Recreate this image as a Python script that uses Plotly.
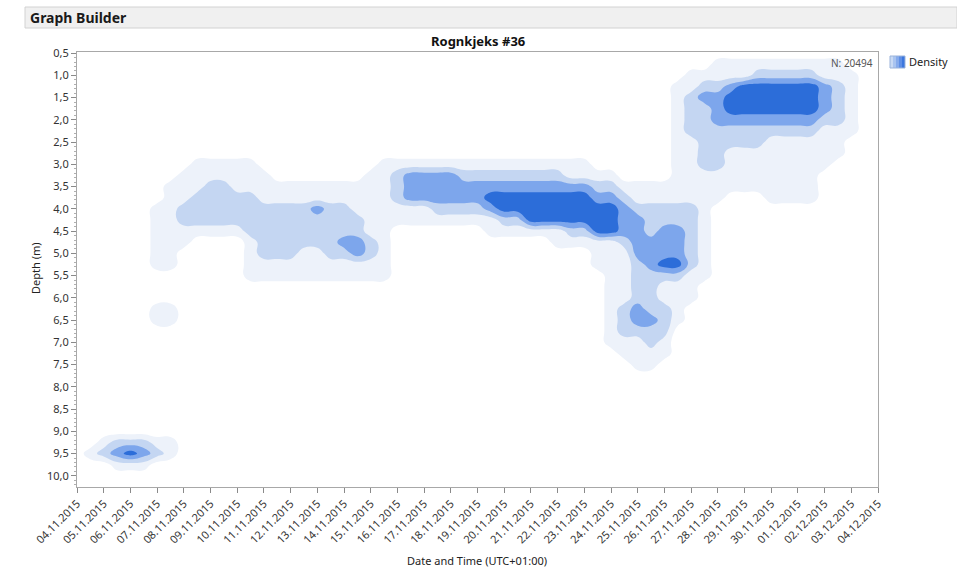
import numpy as np
import pandas as pd
import plotly.graph_objects as go

# ---------------------------------------------------------------------------
# Data
# Density band level on a grid: rows = depth 0.50 .. 10.25 m (step 0.25 m),
# columns = 04.11.2015 00:00 .. 04.12.2015 00:00 (step 12 h).
# 0 = no density, 1 = lowest band ... 4 = highest band.
# ---------------------------------------------------------------------------
depth_start = 0.5
depth_step = 0.25
time_start = "2015-11-04"
time_step = "12h"

density_rows = [
    "0000000000 0000000000 0000000000 0000000000 0000000000 0000000000 0",  # 0.50
    "0000000000 0000000000 0000000000 0000000000 0000000011 1111111100 0",  # 0.75
    "0000000000 0000000000 0000000000 0000000000 0000001111 1222221110 0",  # 1.00
    "0000000000 0000000000 0000000000 0000000000 0000011223 4444443210 0",  # 1.25
    "0000000000 0000000000 0000000000 0000000000 0000012334 4444443210 0",  # 1.50
    "0000000000 0000000000 0000000000 0000000000 0000012234 4444443210 0",  # 1.75
    "0000000000 0000000000 0000000000 0000000000 0000012233 3333332210 0",  # 2.00
    "0000000000 0000000000 0000000000 0000000000 0000012222 2222221110 0",  # 2.25
    "0000000000 0000000000 0000000000 0000000000 0000011222 2211111100 0",  # 2.50
    "0000000000 0000000000 0000000000 0000000000 0000011221 1111111100 0",  # 2.75
    "0000000001 1111000000 0001111111 1111111110 0000011221 1111111000 0",  # 3.00
    "0000000011 1111100000 0011233332 2222222111 1000011111 1111110000 0",  # 3.25
    "0000000111 2211111111 1111233333 3333333332 2111111111 1111110000 0",  # 3.50
    "0000000112 2222111111 1111233333 3444444443 3211111110 0011110000 0",  # 3.75
    "0000001122 2222222232 2111111222 2344444444 4322222100 0000000000 0",  # 4.00
    "0000001122 2222222222 2211111111 1122444444 4332222100 0000000000 0",  # 4.25
    "0000001111 1112222222 2211000000 0111111224 4332332100 0000000000 0",  # 4.50
    "0000001110 0001222222 3321000000 0000001111 1233332100 0000000000 0",  # 4.75
    "0000001100 0001222112 2321000000 0000000001 1133332100 0000000000 0",  # 5.00
    "0000001100 0001111111 1111000000 0000000001 1123442100 0000000000 0",  # 5.25
    "0000000000 0001111111 1111000000 0000000000 1122221100 0000000000 0",  # 5.50
    "0000000000 0000000000 0000000000 0000000000 1122111000 0000000000 0",  # 5.75
    "0000000000 0000000000 0000000000 0000000000 1122111000 0000000000 0",  # 6.00
    "0000001100 0000000000 0000000000 0000000000 1232210000 0000000000 0",  # 6.25
    "0000001100 0000000000 0000000000 0000000000 1233210000 0000000000 0",  # 6.50
    "0000000000 0000000000 0000000000 0000000000 1222200000 0000000000 0",  # 6.75
    "0000000000 0000000000 0000000000 0000000000 1112100000 0000000000 0",  # 7.00
    "0000000000 0000000000 0000000000 0000000000 0111100000 0000000000 0",  # 7.25
    "0000000000 0000000000 0000000000 0000000000 0011000000 0000000000 0",  # 7.50
    "0000000000 0000000000 0000000000 0000000000 0000000000 0000000000 0",  # 7.75
    "0000000000 0000000000 0000000000 0000000000 0000000000 0000000000 0",  # 8.00
    "0000000000 0000000000 0000000000 0000000000 0000000000 0000000000 0",  # 8.25
    "0000000000 0000000000 0000000000 0000000000 0000000000 0000000000 0",  # 8.50
    "0000000000 0000000000 0000000000 0000000000 0000000000 0000000000 0",  # 8.75
    "0000000000 0000000000 0000000000 0000000000 0000000000 0000000000 0",  # 9.00
    "0012221100 0000000000 0000000000 0000000000 0000000000 0000000000 0",  # 9.25
    "0123432100 0000000000 0000000000 0000000000 0000000000 0000000000 0",  # 9.50
    "0001110000 0000000000 0000000000 0000000000 0000000000 0000000000 0",  # 9.75
    "0000000000 0000000000 0000000000 0000000000 0000000000 0000000000 0",  # 10.00
    "0000000000 0000000000 0000000000 0000000000 0000000000 0000000000 0",  # 10.25
]

band_colors = ["#FFFFFF", "#EDF2FA", "#C4D6F2", "#7DA6EC", "#2C6DD9"]

n_count_label = "N: 20494"
chart_title = "Rognkjeks #36"
x_title = "Date and Time (UTC+01:00)"
y_title = "Depth (m)"
legend_label = "Density"
header_label = "Graph Builder"
x_range = ["2015-11-04", "2015-12-04"]
y_range = [10.25, 0.475]

# ---------------------------------------------------------------------------
z = [[int(c) for c in row.replace(" ", "")] for row in density_rows]
n_cols = len(z[0])
x_grid = pd.date_range(time_start, periods=n_cols, freq=time_step)
y_grid = depth_start + depth_step * np.arange(len(z))

n_bands = len(band_colors)
colorscale = [[i / (n_bands - 1), c] for i, c in enumerate(band_colors)]

FONT = "Segoe UI, Noto Sans, Open Sans, sans-serif"

fig = go.Figure()
fig.add_trace(go.Contour(
    x=x_grid, y=y_grid, z=z,
    zmin=0, zmax=n_bands - 1,
    autocontour=False,
    contours=dict(start=0.5, end=n_bands - 1.5, size=1, coloring="fill", showlines=False),
    line=dict(width=0, smoothing=1.3),
    colorscale=colorscale,
    showscale=False,
    hoverinfo="skip",
))

W, H = 957, 568
L, R, T, B = 77, 79, 52, 81
pw, ph = W - L - R, H - T - B


def px(xp):
    return (xp - L) / pw


def py(yp):
    return (H - B - yp) / ph


shapes = [
    # header bar
    dict(type="rect", xref="paper", yref="paper", x0=px(25), x1=px(957), y0=py(28), y1=py(7),
         fillcolor="#F0F0F0", line=dict(color="#D2D2D2", width=1), layer="below"),
]
# legend swatch (gradient approximated by strips)
strip_cols = ["#C9DAF4", "#A9C4F0", "#86ABEC", "#5F8FE5", "#3C77DE"]
sx0, sx1 = 890, 905
for k, c in enumerate(strip_cols):
    a = sx0 + (sx1 - sx0) * k / len(strip_cols)
    b = sx0 + (sx1 - sx0) * (k + 1) / len(strip_cols)
    shapes.append(dict(type="rect", xref="paper", yref="paper", x0=px(a), x1=px(b),
                       y0=py(68), y1=py(56), fillcolor=c, line=dict(width=0)))
shapes.append(dict(type="rect", xref="paper", yref="paper", x0=px(sx0), x1=px(sx1),
                   y0=py(68), y1=py(56), line=dict(color="#9AB3DA", width=1)))

annotations = [
    dict(text=f"<b>{header_label}</b>", x=px(28), y=py(17.5), xref="paper", yref="paper",
         xanchor="left", yanchor="middle", showarrow=False, font=dict(size=14, color="#1a1a1a", family=FONT)),
    dict(text=f"<b>{chart_title}</b>", x=0.5, y=py(41), xref="paper", yref="paper",
         xanchor="center", yanchor="middle", showarrow=False, font=dict(size=13, color="#111", family=FONT)),
    dict(text=n_count_label, x=px(875), y=py(63), xref="paper", yref="paper",
         xanchor="right", yanchor="middle", showarrow=False, font=dict(size=10, color="#555", family=FONT)),
    dict(text=legend_label, x=px(907), y=py(62), xref="paper", yref="paper",
         xanchor="left", yanchor="middle", showarrow=False, font=dict(size=11, color="#222", family=FONT)),
    dict(text=y_title, x=px(35), y=py(268), xref="paper", yref="paper", textangle=-90,
         xanchor="center", yanchor="middle", showarrow=False, font=dict(size=11, color="#222", family=FONT)),
    dict(text=x_title, x=px(477), y=py(560), xref="paper", yref="paper",
         xanchor="center", yanchor="middle", showarrow=False, font=dict(size=11, color="#222", family=FONT)),
]

fig.update_layout(
    width=W, height=H,
    margin=dict(l=L, r=R, t=T, b=B, pad=0),
    paper_bgcolor="white", plot_bgcolor="white",
    separators=", ",
    showlegend=False,
    font=dict(family=FONT, size=11, color="#333"),
    shapes=shapes,
    annotations=annotations,
    xaxis=dict(type="date", range=x_range, dtick=86400000, tick0=x_range[0],
               tickformat="%d.%m.%Y", tickangle=-45, ticks="outside", ticklen=5,
               tickcolor="#8a8a8a", showgrid=False, zeroline=False, showline=True,
               linecolor="#A8A8A8", mirror=True, tickfont=dict(size=11, color="#333"),
               automargin=False),
    yaxis=dict(range=y_range, dtick=0.5, tick0=0.5, tickformat=".1f", ticks="outside",
               ticklen=5, tickcolor="#8a8a8a", showgrid=False, zeroline=False,
               showline=True, linecolor="#A8A8A8", mirror=True,
               minor=dict(dtick=0.1, ticks="outside", ticklen=2, tickcolor="#b0b0b0"),
               tickfont=dict(size=11, color="#333"), automargin=False),
)

fig.write_html("out.html", config={"displayModeBar": False},
               post_script="document.body.style.margin='0';document.body.style.overflow='hidden';")
